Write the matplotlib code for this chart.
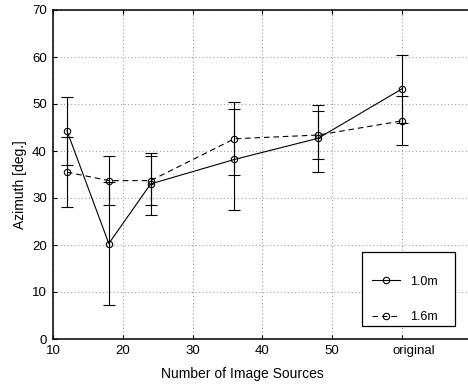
import matplotlib
matplotlib.use("Agg")
import matplotlib.pyplot as plt
from matplotlib.patches import Rectangle
from matplotlib.transforms import ScaledTranslation

plt.rcParams['font.family'] = ['Liberation Sans', 'DejaVu Sans']

# Data
x_pos = [12, 18, 24, 36, 48, 60]
mean_10 = [44.3, 20.3, 33.0, 38.2, 42.7, 53.2]
err_10 = [7.2, 13.0, 6.6, 10.8, 7.1, 7.2]
mean_16 = [35.5, 33.7, 33.7, 42.6, 43.4, 46.4]
err_16 = [7.4, 5.2, 5.2, 7.8, 5.2, 5.2]
x_ticks = [10, 20, 30, 40, 50, 60]
x_ticklabels = ['10', '20', '30', '40', '50', 'original']
y_ticks = [0, 10, 20, 30, 40, 50, 60, 70]
labels = ['1.0m', '1.6m']

fig = plt.figure(figsize=(4.68, 3.85), dpi=100)
ax = fig.add_axes([53/468, 46/385, 420/468, 329/385])

common = dict(color='black', lw=0.8, marker='o', markersize=4.6,
              markerfacecolor='none', markeredgecolor='black', markeredgewidth=0.8,
              ecolor='black', elinewidth=0.8, capsize=4.5, capthick=0.8)
e1 = ax.errorbar(x_pos, mean_10, yerr=err_10, linestyle='-', **common)
e2 = ax.errorbar(x_pos, mean_16, yerr=err_16, linestyle=(0, (5, 3.5)), **common)

ax.set_xlim(10, 70.2)
ax.set_ylim(0, 70)
ax.set_xticks(x_ticks)
ax.set_xticklabels(x_ticklabels)
ax.set_yticks(y_ticks)
ax.grid(True, linestyle=(0, (0.8, 2.4)), color='0.55', lw=0.8)
ax.tick_params(direction='in', length=3, width=0.8, labelsize=9.5, pad=4.5,
               top=True, right=False, colors='black')
for s in ax.spines.values():
    s.set_linewidth(1.1)
ax.spines['right'].set_visible(False)

ax.set_xlabel('Number of Image Sources', fontsize=10)
ax.set_ylabel('Azimuth [deg.]', fontsize=10)
ax.xaxis.set_label_coords((242-53)/420, -0.085)
ax.yaxis.set_label_coords(-0.062, 0.468)

# Legend box
ax.add_patch(Rectangle(((362-53)/420, 0.0395), 93/420, 0.264-0.0395,
                       transform=ax.transAxes, facecolor='white',
                       edgecolor='black', lw=0.9, zorder=5))
leg = ax.legend([e1.lines[0], e2.lines[0]], labels, frameon=False,
                loc='center left', bbox_to_anchor=((372-53)/420, 0.12),
                borderpad=0, borderaxespad=0, handlelength=2.2,
                handletextpad=0.85, labelspacing=1.9, fontsize=9)
leg.set_zorder(6)

fig.canvas.draw()
tl = ax.get_xticklabels()[-1]
tl.set_transform(tl.get_transform() + ScaledTranslation(12/100, 0, fig.dpi_scale_trans))

fig.savefig('out.png', dpi=100)
